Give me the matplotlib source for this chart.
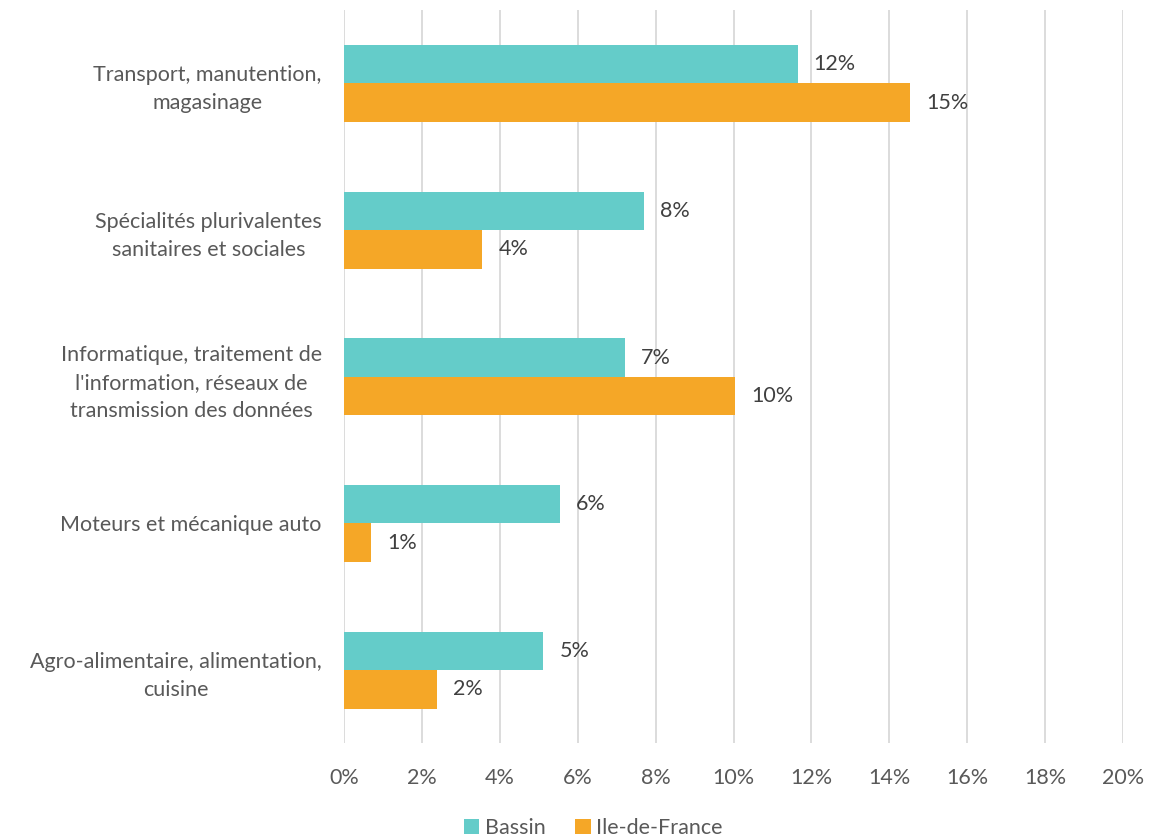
import numpy as np
import matplotlib.pyplot as plt
from matplotlib.ticker import FuncFormatter

categories = [
    "Transport, manutention,\nmagasinage",
    "Spécialités plurivalentes\nsanitaires et sociales",
    "Informatique, traitement de\nl'information, réseaux de\ntransmission des données",
    "Moteurs et mécanique auto",
    "Agro-alimentaire, alimentation,\ncuisine",
]
bassin = [11.65, 7.7, 7.22, 5.55, 5.12]
idf = [14.54, 3.55, 10.05, 0.70, 2.38]
bassin_labels = ["12%", "8%", "7%", "6%", "5%"]
idf_labels = ["15%", "4%", "10%", "1%", "2%"]
xticks = list(range(0, 21, 2))

plt.rcParams['font.family'] = ['Lato', 'DejaVu Sans']

teal = "#64ccc9"
orange = "#f5a727"
gray = "#595959"

fig = plt.figure(figsize=(11.49, 8.4), dpi=100)
ax = fig.add_axes([0.2994, 0.1149, 0.678, 0.873])

y = np.arange(len(categories))
h = 0.262
ax.barh(y - h / 2, bassin, height=h, color=teal, label="Bassin", zorder=3)
ax.barh(y + h / 2, idf, height=h, color=orange, label="Ile-de-France", zorder=3)

for yi, v, t in zip(y, bassin, bassin_labels):
    ax.annotate(t, (v, yi - h / 2), xytext=(11.5, 0), textcoords="offset points",
                va="center", ha="left", fontsize=15.5, color="#404040")
for yi, v, t in zip(y, idf, idf_labels):
    ax.annotate(t, (v, yi + h / 2), xytext=(11.5, 0), textcoords="offset points",
                va="center", ha="left", fontsize=15.5, color="#404040")

ax.set_xlim(0, 20)
ax.set_ylim(len(categories) - 0.5, -0.5)
ax.set_xticks(xticks)
ax.xaxis.set_major_formatter(FuncFormatter(lambda v, p: f"{v:.0f}%"))
ax.set_yticks(y)
ax.set_yticklabels(categories, multialignment="center", linespacing=1.5)
ax.tick_params(axis="x", length=0, pad=18, labelsize=15.5, labelcolor=gray)
ax.tick_params(axis="y", length=0, pad=16, labelsize=15.5, labelcolor=gray)
ax.grid(axis="x", color="#d9d9d9", linewidth=1.3, zorder=0)
for s in ax.spines.values():
    s.set_visible(False)

ax.legend(loc="lower center", bbox_to_anchor=(0.32, -0.155), ncol=2, frameon=False,
          fontsize=15.5, labelcolor=gray, handlelength=0.7, handleheight=0.7,
          handletextpad=0.25, columnspacing=1.4)

fig.savefig("out.png", dpi=100)
